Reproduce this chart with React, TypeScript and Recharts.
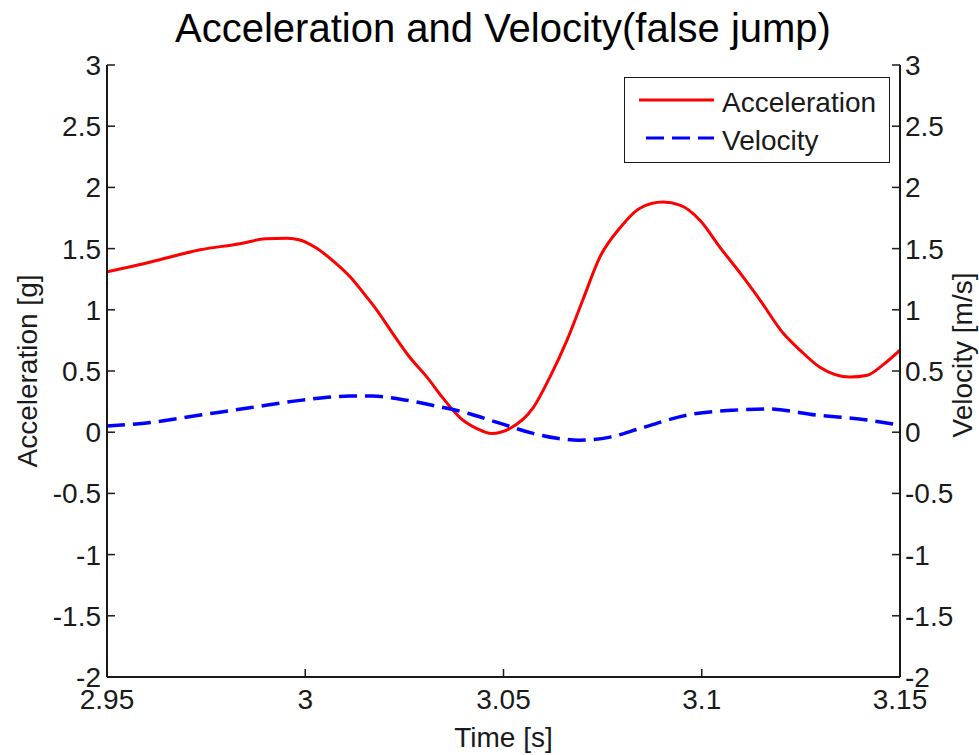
import { Label, Line, LineChart, XAxis, YAxis } from "recharts";

// acceleration trace, time in seconds vs g
const accTime = [
  2.95, 2.961, 2.9735, 2.9835, 2.99, 2.9954, 2.9987, 3.003, 3.007, 3.0113,
  3.0156, 3.018, 3.022, 3.0264, 3.0307, 3.0347, 3.039, 3.0433, 3.047, 3.0516,
  3.0575, 3.0617, 3.066, 3.07, 3.0743, 3.0794, 3.0844, 3.0902, 3.0945, 3.0996,
  3.1046, 3.1097, 3.1147, 3.1205, 3.1248, 3.1298, 3.1374, 3.1417, 3.1457, 3.15,
];
const accG = [
  1.31, 1.39, 1.49, 1.54, 1.58, 1.585, 1.57, 1.5, 1.4, 1.27,
  1.1, 1.0, 0.81, 0.61, 0.45, 0.28, 0.12, 0.03, -0.01, 0.03,
  0.2, 0.45, 0.75, 1.08, 1.43, 1.67, 1.83, 1.88, 1.855, 1.73,
  1.51, 1.3, 1.08, 0.81, 0.67, 0.53, 0.45, 0.465, 0.55, 0.67,
];

// velocity trace, time in seconds vs m/s
const velTime = [
  2.95, 2.961, 2.9735, 2.986, 2.9987, 3.0113, 3.017, 3.024, 3.032, 3.041,
  3.049, 3.0575, 3.0635, 3.069, 3.0769, 3.0844, 3.0963, 3.108, 3.1164, 3.129,
  3.1417, 3.15,
];
const velMs = [
  0.05, 0.08, 0.14, 0.2, 0.26, 0.295, 0.295, 0.27, 0.22, 0.155,
  0.074, -0.01, -0.05, -0.065, -0.04, 0.03, 0.14, 0.18, 0.19, 0.14,
  0.1, 0.057,
];

const timeTicks = [2.95, 3, 3.05, 3.1, 3.15];
const valueTicks = [-2, -1.5, -1, -0.5, 0, 0.5, 1, 1.5, 2, 2.5, 3];

const accData = accTime.map((t, i) => ({ t, acc: accG[i] }));
const velData = velTime.map((t, i) => ({ t, vel: velMs[i] }));

const FONT = '"Liberation Sans", Arial, Helvetica, sans-serif';
const INK = "#1a1a1a";
const TICK_LEN = 8;

type TickProps = { x?: number; y?: number; payload?: { value: number } };

// ticks point into the plot, MATLAB style
function LeftTick({ x = 0, y = 0, payload }: TickProps) {
  return (
    <g>
      <line x1={x} x2={x + TICK_LEN} y1={y} y2={y} stroke={INK} strokeWidth={1.5} />
      <text x={x - 6} y={y + 10} textAnchor="end" fontSize={28} fill={INK} fontFamily={FONT}>
        {payload?.value}
      </text>
    </g>
  );
}

function RightTick({ x = 0, y = 0, payload }: TickProps) {
  return (
    <g>
      <line x1={x} x2={x - TICK_LEN} y1={y} y2={y} stroke={INK} strokeWidth={1.5} />
      <text x={x + 5} y={y + 10} textAnchor="start" fontSize={28} fill={INK} fontFamily={FONT}>
        {payload?.value}
      </text>
    </g>
  );
}

function BottomTick({ x = 0, y = 0, payload }: TickProps) {
  return (
    <g>
      <line x1={x} x2={x} y1={y} y2={y - TICK_LEN} stroke={INK} strokeWidth={1.5} />
      <text x={x} y={y + 32} textAnchor="middle" fontSize={28} fill={INK} fontFamily={FONT}>
        {payload?.value}
      </text>
    </g>
  );
}

type Box = { x?: number; y?: number; width?: number; height?: number };

function axisTitle(text: string, dx: number, dy: number) {
  return (props: { viewBox?: Box }) => {
    const vb = props.viewBox ?? {};
    const cx = (vb.x ?? 0) + dx;
    const cy = (vb.y ?? 0) + (vb.height ?? 0) / 2 + dy;
    return (
      <text
        x={cx}
        y={cy}
        transform={`rotate(-90 ${cx} ${cy})`}
        textAnchor="middle"
        dominantBaseline="central"
        fontSize={28}
        fill={INK}
        fontFamily={FONT}
      >
        {text}
      </text>
    );
  };
}

function LegendBox() {
  return (
    <div
      style={{
        position: "absolute",
        left: 624,
        top: 77,
        width: 264,
        height: 84,
        border: `1.5px solid ${INK}`,
        background: "#fff",
        fontFamily: FONT,
        fontSize: 28,
        color: INK,
      }}
    >
      <svg width={264} height={84} style={{ position: "absolute", left: 0, top: 0 }}>
        <line x1={14} x2={89} y1={22} y2={22} stroke="#ff0000" strokeWidth={3} />
        <line x1={21} x2={89} y1={60} y2={60} stroke="#0000ff" strokeWidth={3} strokeDasharray="18 8" />
        <text x={97} y={34} fontSize={28} fill={INK} fontFamily={FONT}>
          Acceleration
        </text>
        <text x={97} y={72} fontSize={28} fill={INK} fontFamily={FONT}>
          Velocity
        </text>
      </svg>
    </div>
  );
}

export default function App() {
  return (
    <div
      style={{
        position: "absolute",
        left: 0,
        top: 0,
        width: 979,
        height: 755,
        background: "#fff",
        fontFamily: FONT,
      }}
    >
      <div
        style={{
          position: "absolute",
          left: 0,
          top: 5,
          width: 1006,
          textAlign: "center",
          fontSize: 40,
          color: "#000",
          lineHeight: "46px",
        }}
      >
        Acceleration and Velocity(false jump)
      </div>
      <LineChart width={979} height={755} margin={{ top: 65, right: 0, bottom: 0, left: 0 }}>
        <XAxis
          dataKey="t"
          type="number"
          domain={[2.95, 3.15]}
          ticks={timeTicks}
          allowDataOverflow
          height={78}
          tickSize={0}
          tickMargin={0}
          stroke={INK}
          axisLine={{ stroke: INK, strokeWidth: 2 }}
          tickLine={false}
          tick={<BottomTick />}
        >
          <Label
            content={(p: { viewBox?: Box }) => {
              const vb = p.viewBox ?? {};
              return (
                <text
                  x={(vb.x ?? 0) + (vb.width ?? 0) / 2}
                  y={(vb.y ?? 0) + 70}
                  textAnchor="middle"
                  fontSize={28}
                  fill={INK}
                  fontFamily={FONT}
                >
                  Time [s]
                </text>
              );
            }}
          />
        </XAxis>
        <YAxis
          yAxisId="left"
          orientation="left"
          type="number"
          domain={[-2, 3]}
          ticks={valueTicks}
          allowDataOverflow
          width={107}
          tickSize={0}
          tickMargin={0}
          axisLine={{ stroke: INK, strokeWidth: 2 }}
          tickLine={false}
          tick={<LeftTick />}
        >
          <Label content={axisTitle("Acceleration [g]", 27, 0)} />
        </YAxis>
        <YAxis
          yAxisId="right"
          orientation="right"
          type="number"
          domain={[-2, 3]}
          ticks={valueTicks}
          allowDataOverflow
          width={79}
          tickSize={0}
          tickMargin={0}
          axisLine={{ stroke: INK, strokeWidth: 2 }}
          tickLine={false}
          tick={<RightTick />}
        >
          <Label content={axisTitle("Velocity [m/s]", 62, -16)} />
        </YAxis>
        <Line
          yAxisId="left"
          data={accData}
          dataKey="acc"
          type="monotone"
          stroke="#ff0000"
          strokeWidth={3}
          dot={false}
          isAnimationActive={false}
        />
        <Line
          yAxisId="right"
          data={velData}
          dataKey="vel"
          type="monotone"
          stroke="#0000ff"
          strokeWidth={3.5}
          strokeDasharray="18 8"
          dot={false}
          isAnimationActive={false}
        />
      </LineChart>
      <LegendBox />
    </div>
  );
}
